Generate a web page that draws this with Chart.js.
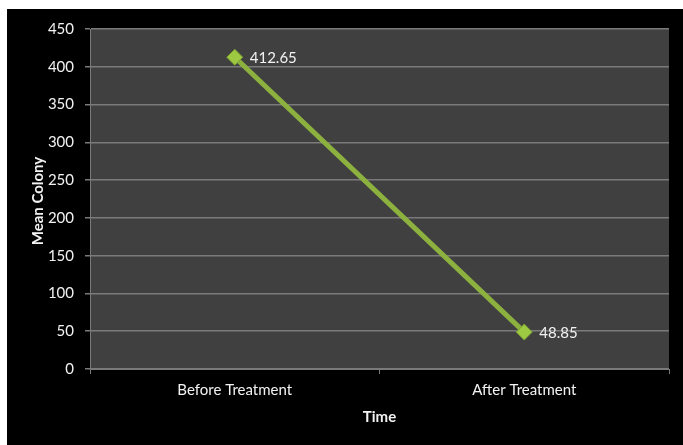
<!DOCTYPE html>
<html>
<head>
<meta charset="utf-8">
<script src="https://cdn.jsdelivr.net/npm/chart.js@4/dist/chart.umd.min.js"></script>
<style>
  html, body { margin: 0; padding: 0; background: #ffffff; }
  #wrap { width: 683px; height: 445px; position: relative; }
</style>
</head>
<body>
<div id="wrap"><canvas id="c" width="683" height="445"></canvas></div>
<script>
const categories = ['Before Treatment', 'After Treatment'];
const meanColony = [412.65, 48.85];
const yTicks = [0, 50, 100, 150, 200, 250, 300, 350, 400, 450];
const xTitle = 'Time';
const yTitle = 'Mean Colony';

const FONT = 'Lato, "Open Sans", sans-serif';
const TEXT = '#f2f2f2';
const GRID = '#7a7a7a';

// Black frame behind the chart and the dark grey plot area
const frame = {
  id: 'frame',
  beforeDraw(chart) {
    const { ctx, chartArea: a } = chart;
    ctx.save();
    ctx.fillStyle = '#000000';
    ctx.fillRect(7, 9, chart.width - 7, chart.height - 9);
    ctx.fillStyle = '#404040';
    ctx.fillRect(a.left, a.top, a.right - a.left, a.bottom - a.top);
    ctx.restore();
  }
};

// Axis titles
const axisTitles = {
  id: 'axisTitles',
  afterDraw(chart) {
    const { ctx, chartArea: a } = chart;
    ctx.save();
    ctx.fillStyle = TEXT;
    ctx.font = 'bold 15px ' + FONT;
    ctx.textAlign = 'center';
    ctx.textBaseline = 'middle';
    ctx.fillText(xTitle, (a.left + a.right) / 2, 417);
    ctx.translate(38, (a.top + a.bottom) / 2 + 2);
    ctx.rotate(-Math.PI / 2);
    ctx.fillText(yTitle, 0, 0);
    ctx.restore();
  }
};

// Value labels to the right of each point
const valueLabels = {
  id: 'valueLabels',
  afterDatasetsDraw(chart) {
    const { ctx } = chart;
    const meta = chart.getDatasetMeta(0);
    ctx.save();
    ctx.fillStyle = TEXT;
    ctx.font = '15px ' + FONT;
    ctx.textAlign = 'left';
    ctx.textBaseline = 'middle';
    meta.data.forEach((pt, i) => {
      ctx.fillText(meanColony[i].toFixed(2), pt.x + 15, pt.y + 1);
    });
    ctx.restore();
  }
};

new Chart(document.getElementById('c'), {
  type: 'line',
  data: {
    labels: categories,
    datasets: [{
      data: meanColony,
      borderColor: '#8cb13e',
      borderWidth: 5,
      pointStyle: 'rectRot',
      pointRadius: 8,
      pointHoverRadius: 8,
      pointBackgroundColor: '#9cc842',
      pointBorderColor: '#7a9c30',
      pointBorderWidth: 1,
      tension: 0
    }]
  },
  options: {
    responsive: false,
    animation: false,
    events: [],
    layout: { padding: { left: 7, top: 29, right: 14, bottom: 0 } },
    plugins: { legend: { display: false }, tooltip: { enabled: false } },
    scales: {
      x: {
        type: 'category',
        offset: true,
        afterFit(s) { s.height = 76; },
        grid: {
          offset: true,
          drawOnChartArea: false,
          drawTicks: true,
          tickLength: 5,
          tickColor: GRID,
          color: GRID
        },
        border: { display: true, color: GRID, width: 1 },
        ticks: { color: TEXT, font: { family: FONT, size: 15 }, padding: 7, maxRotation: 0 }
      },
      y: {
        min: 0,
        max: 450,
        afterFit(s) { s.width = 83; },
        afterBuildTicks(s) { s.ticks = yTicks.map(v => ({ value: v })); },
        grid: {
          color: GRID,
          lineWidth: 1.5,
          drawTicks: true,
          tickLength: 5,
          tickColor: GRID
        },
        border: { display: true, color: GRID, width: 1 },
        ticks: { color: TEXT, font: { family: FONT, size: 15 }, padding: 11 }
      }
    }
  },
  plugins: [frame, axisTitles, valueLabels]
});
</script>
</body>
</html>
